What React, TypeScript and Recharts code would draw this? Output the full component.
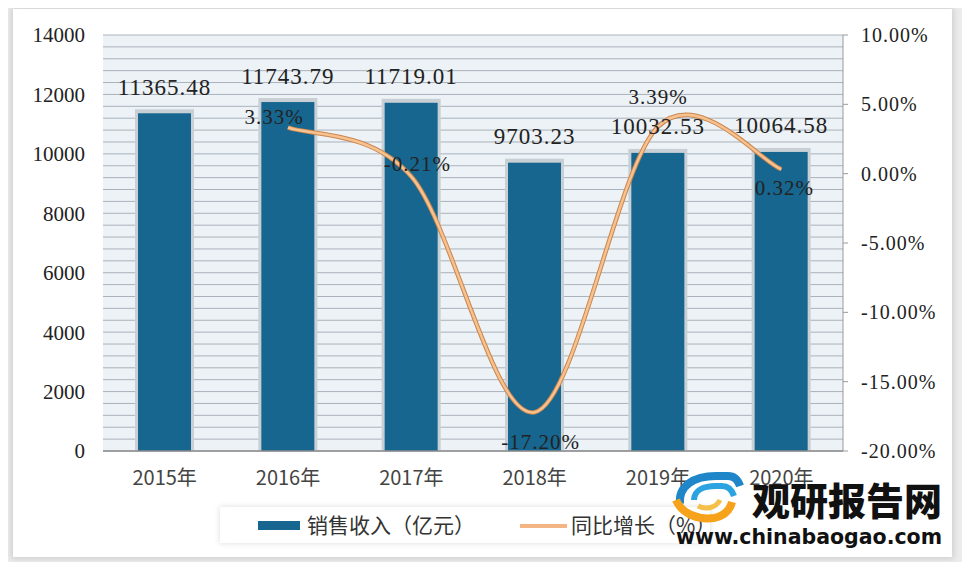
import { ComposedChart, Bar, Line, XAxis, YAxis, CartesianGrid, LabelList } from "recharts";

const years = ["2015年", "2016年", "2017年", "2018年", "2019年", "2020年"];
const revenue = [11365.48, 11743.79, 11719.01, 9703.23, 10032.53, 10064.58];
const growth = [null, 3.33, -0.21, -17.2, 3.39, 0.32];
const growthLabels = ["", "3.33%", "-0.21%", "-17.20%", "3.39%", "0.32%"];

const leftTicks = Array.from({ length: 36 }, (_, i) => i * 400);
const rightTicks = [-20, -15, -10, -5, 0, 5, 10];

const data = years.map((year, i) => ({
  year,
  revenue: revenue[i],
  growth: growth[i],
  growthLabel: growthLabels[i],
}));

const SERIF = "'Liberation Serif', 'DejaVu Serif', serif";
const SANS = "'Noto Sans CJK SC', 'Noto Sans', sans-serif";
const BLUE = "#17668f";

// where each growth label sits relative to its point
const lineLabelOffset: Record<number, [number, number]> = {
  1: [-14, -10],
  2: [6, -13],
  3: [6, 30],
  4: [0, -30],
  5: [3, 19],
};

// excel-like smoothed line (catmull-rom style bezier)
function excelSmooth(context: any) {
  let pts: number[][] = [];
  return {
    areaStart() {},
    areaEnd() {},
    lineStart() {
      pts = [];
    },
    point(x: number, y: number) {
      pts.push([+x, +y]);
    },
    lineEnd() {
      if (!pts.length) return;
      context.moveTo(pts[0][0], pts[0][1]);
      for (let i = 0; i < pts.length - 1; i++) {
        const p0 = pts[i - 1] || pts[i];
        const p1 = pts[i];
        const p2 = pts[i + 1];
        const p3 = pts[i + 2] || p2;
        context.bezierCurveTo(
          p1[0] + (p2[0] - p0[0]) / 6,
          p1[1] + (p2[1] - p0[1]) / 6,
          p2[0] - (p3[0] - p1[0]) / 6,
          p2[1] - (p3[1] - p1[1]) / 6,
          p2[0],
          p2[1]
        );
      }
    },
  };
}

function BarShape(props: any) {
  const { x, y, width, height } = props;
  return (
    <g>
      <rect x={x - 3} y={y - 4} width={width + 6} height={height + 4} fill="#c8d0d5" />
      <rect x={x} y={y} width={width} height={height} fill={BLUE} />
    </g>
  );
}

function BarValue(props: any) {
  const { x, y, width, value } = props;
  return (
    <text
      x={x + width / 2}
      y={y - 26}
      textAnchor="middle"
      dominantBaseline="central"
      fontFamily={SERIF}
      fontSize={23}
      letterSpacing={1}
      fill="#222"
    >
      {Number(value).toFixed(2)}
    </text>
  );
}

function GrowthValue(props: any) {
  const { x, y, index } = props;
  const off = lineLabelOffset[index];
  if (!off || x == null || y == null) return null;
  return (
    <text
      x={x + off[0]}
      y={y + off[1]}
      textAnchor="middle"
      dominantBaseline="central"
      fontFamily={SERIF}
      fontSize={21}
      letterSpacing={1}
      fill="#222"
    >
      {growthLabels[index]}
    </text>
  );
}

export default function App() {
  return (
    <div
      style={{
        position: "relative",
        width: 970,
        height: 570,
        margin: -8,
        background: "#ececec",
        overflow: "hidden",
      }}
    >
      <div
        style={{
          position: "absolute",
          left: 13,
          top: 9,
          width: 939,
          height: 548,
          background: "#fff",
          boxShadow: "0 0 6px 2px rgba(0,0,0,0.12)",
        }}
      />
      <div style={{ position: "absolute", left: 0, top: 0 }}>
        <ComposedChart
          width={970}
          height={570}
          data={data}
          margin={{ top: 35, right: 17, bottom: 79, left: 23 }}
        >
          <CartesianGrid
            yAxisId="left"
            vertical={false}
            stroke="#a9b2bb"
            fill="#edf2f6"
            fillOpacity={1}
          />
          <XAxis
            dataKey="year"
            height={40}
            tickLine={false}
            axisLine={{ stroke: "#8c8c8c", strokeWidth: 1.5 }}
            tickMargin={14}
            tick={{ fontFamily: SANS, fontSize: 20, fill: "#444" }}
          />
          <YAxis
            yAxisId="left"
            width={80}
            domain={[0, 14000]}
            ticks={leftTicks}
            interval={0}
            tickFormatter={(v: number) => (v % 2000 === 0 ? String(v) : "")}
            axisLine={false}
            tickLine={false}
            tickMargin={12}
            tick={{ fontFamily: SERIF, fontSize: 21, fill: "#222" }}
          />
          <YAxis
            yAxisId="right"
            orientation="right"
            width={110}
            domain={[-20, 10]}
            ticks={rightTicks}
            tickFormatter={(v: number) => v.toFixed(2) + "%"}
            axisLine={{ stroke: "#9a9a9a" }}
            tickLine={{ stroke: "#9a9a9a" }}
            tickSize={5}
            tickMargin={13}
            tick={{ fontFamily: SERIF, fontSize: 20, fill: "#222", letterSpacing: 1 }}
          />
          <Bar
            yAxisId="left"
            dataKey="revenue"
            barSize={53}
            fill={BLUE}
            shape={BarShape}
            isAnimationActive={false}
          >
            <LabelList dataKey="revenue" content={BarValue} />
          </Bar>
          <Line
            yAxisId="right"
            dataKey="growth"
            type={excelSmooth as any}
            stroke="#c9874d"
            strokeWidth={4.5}
            dot={false}
            activeDot={false}
            isAnimationActive={false}
          />
          <Line
            yAxisId="right"
            dataKey="growth"
            type={excelSmooth as any}
            stroke="#f7c190"
            strokeWidth={2.5}
            dot={false}
            activeDot={false}
            isAnimationActive={false}
          >
            <LabelList dataKey="growth" content={GrowthValue} />
          </Line>
        </ComposedChart>
      </div>

      {/* legend */}
      <div
        style={{
          position: "absolute",
          left: 220,
          top: 507,
          width: 490,
          height: 36,
          background: "#fff",
          boxShadow: "0 0 5px 1px rgba(0,0,0,0.10)",
          fontFamily: SANS,
          fontSize: 21,
          color: "#333",
          whiteSpace: "nowrap",
        }}
      >
        <div style={{ position: "absolute", left: 38, top: 14, width: 42, height: 9, background: BLUE }} />
        <div style={{ position: "absolute", left: 87, top: 2, lineHeight: "30px" }}>销售收入（亿元）</div>
        <div style={{ position: "absolute", left: 300, top: 17, width: 47, height: 4, background: "#f4b584" }} />
        <div style={{ position: "absolute", left: 351, top: 2, lineHeight: "30px" }}>同比增长（%）</div>
      </div>

      {/* watermark */}
      <svg style={{ position: "absolute", left: 672, top: 470 }} width={72} height={56}>
        <path d="M8 34 C6 16 22 6 44 6 L56 6 C62 6 66 10 68 16" fill="none" stroke="#1f86c9" strokeWidth={8} />
        <path d="M22 30 C22 20 32 16 44 16 L50 16 C56 16 60 20 62 26" fill="none" stroke="#2aa3e0" strokeWidth={6} />
        <path d="M4 30 C10 44 26 50 42 48 C52 46 58 40 60 32" fill="none" stroke="#f7a21b" strokeWidth={8} />
        <path d="M26 36 C34 40 44 38 48 30" fill="none" stroke="#f5c04a" strokeWidth={5} />
      </svg>
      <div
        style={{
          position: "absolute",
          left: 752,
          top: 474,
          fontFamily: SANS,
          fontWeight: 900,
          fontSize: 38,
          lineHeight: "50px",
          color: "#111",
          whiteSpace: "nowrap",
        }}
      >
        观研报告网
      </div>
      <div
        style={{
          position: "absolute",
          left: 676,
          top: 523,
          fontFamily: "'DejaVu Sans', sans-serif",
          fontWeight: 700,
          fontSize: 20.5,
          lineHeight: "28px",
          color: "#111",
          whiteSpace: "nowrap",
        }}
      >
        www.chinabaogao.com
      </div>
    </div>
  );
}
